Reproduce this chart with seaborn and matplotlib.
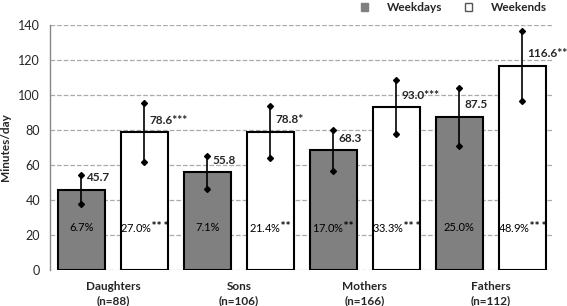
import numpy as np
import pandas as pd
import matplotlib
matplotlib.use("Agg")
import matplotlib.pyplot as plt
import seaborn as sns
from matplotlib.patches import Patch

# ==============================
# Data
# ==============================
groups = ["Daughters\n(n=88)", "Sons\n(n=106)", "Mothers\n(n=166)", "Fathers\n(n=112)"]
periods = ["Weekdays", "Weekends"]

weekday_min = [45.7, 55.8, 68.3, 87.5]
weekend_min = [78.6, 78.8, 93.0, 116.6]

weekday_err = [8.3, 9.3, 11.7, 16.7]
weekend_err = [17.0, 15.0, 15.4, 20.0]

weekday_labels = ["45.7", "55.8", "68.3", "87.5"]
weekend_labels = ["78.6***", "78.8*", "93.0***", "116.6**"]

weekday_pct = ["6.7%", "7.1%", "17.0%$^{\\bf{**}}$", "25.0%"]
weekend_pct = ["27.0%$^{\\bf{***}}$", "21.4%$^{\\bf{**}}$",
               "33.3%$^{\\bf{***}}$", "48.9%$^{\\bf{***}}$"]

df = pd.DataFrame({
    "group": groups * 2,
    "period": [periods[0]] * 4 + [periods[1]] * 4,
    "minutes": weekday_min + weekend_min,
})

sns.set_style("white")
plt.rcParams["font.family"] = ["Lato", "DejaVu Sans"]
plt.rcParams["mathtext.default"] = "regular"

fig = plt.figure(figsize=(5.67, 3.06), dpi=100)
ax = fig.add_axes([0.088, 0.118, 0.889, 0.8])

palette = {"Weekdays": "#808080", "Weekends": "white"}
sns.barplot(data=df, x="group", y="minutes", hue="period", order=groups,
            hue_order=periods, palette=palette, edgecolor="black", linewidth=1.5,
            width=1.0, gap=0.254, errorbar=None, ax=ax, legend=False)

errs = [weekday_err, weekend_err]
vals = [weekday_min, weekend_min]
vlabels = [weekday_labels, weekend_labels]
plabels = [weekday_pct, weekend_pct]

bar_conts = list(ax.containers)
for k, cont in enumerate(bar_conts):
    xs = [p.get_x() + p.get_width() / 2 for p in cont.patches]
    ax.errorbar(xs, vals[k], yerr=errs[k], fmt="none", ecolor="black",
                elinewidth=1.2, capsize=0, zorder=4)
    for x, v, e in zip(xs, vals[k], errs[k]):
        ax.plot([x, x], [v - e, v + e], linestyle="none", marker="D",
                markersize=3, color="black", zorder=5)
    for x, v, lab, pl in zip(xs, vals[k], vlabels[k], plabels[k]):
        ax.text(x + 0.04, v + 7, lab, ha="left", va="center",
                fontsize=8.5, fontweight="bold", zorder=6)
        ax.text(x, 24, pl, ha="center", va="center", fontsize=8,
                color="black", zorder=6)

ax.set_ylim(0, 140)
ax.set_yticks(np.arange(0, 141, 20))
ax.set_xlim(-0.5, 3.5)
ax.set_xlabel("")
ax.set_ylabel("Minutes/day", fontsize=8.5, fontweight="bold", labelpad=5)
ax.tick_params(axis="y", labelsize=9, length=4, color="#888888", width=1, pad=3)
ax.tick_params(axis="x", length=0, pad=8)
for lab in ax.get_xticklabels():
    lab.set_fontweight("bold")
    lab.set_fontsize(8.5)
    lab.set_linespacing(1.4)

ax.yaxis.grid(True, linestyle="--", color="#aaaaaa", linewidth=0.9)
ax.set_axisbelow(True)
for s in ["top", "right", "bottom"]:
    ax.spines[s].set_visible(False)
ax.spines["left"].set_color("#888888")
ax.spines["left"].set_linewidth(1)

handles = [Patch(facecolor="#808080", edgecolor="#808080"),
           Patch(facecolor="white", edgecolor="#555555")]
ax.legend(handles, periods, ncol=2, frameon=False, loc="lower right",
          bbox_to_anchor=(0.995, 1.03), handlelength=0.6, handleheight=0.6,
          columnspacing=1.9, handletextpad=1.6,
          prop={"weight": "bold", "size": 8.5}, borderaxespad=0.0)

fig.savefig("out.png", dpi=100)
